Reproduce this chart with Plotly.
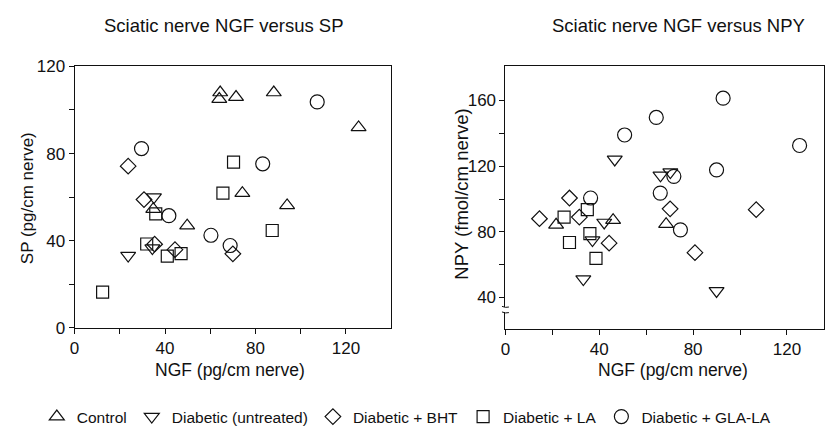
import plotly.graph_objects as go

# ---------------- data ----------------
# Left panel: NGF (pg/cm nerve) vs SP (pg/cm nerve)
control_ngf_sp = [64.4, 64.0, 71.4, 88.1, 125.6, 74.2, 94.0, 49.8, 34.8]
control_sp = [108.0, 105.0, 105.9, 108.0, 92.0, 61.8, 56.2, 46.9, 54.5]
diab_ngf_sp = [35.1, 23.7, 34.4]
diab_sp = [60.0, 33.2, 36.6]
bht_ngf_sp = [23.7, 30.7, 35.4, 44.4, 70.0]
bht_sp = [74.2, 58.9, 38.4, 35.9, 34.0]
la_ngf_sp = [12.4, 70.3, 65.6, 87.4, 35.9, 31.9, 41.0, 47.1]
la_sp = [16.4, 76.1, 61.8, 44.7, 52.3, 38.5, 32.9, 34.1]
gla_ngf_sp = [29.6, 107.3, 83.2, 41.7, 60.3, 68.8]
gla_sp = [82.3, 103.7, 75.3, 51.5, 42.5, 37.8]

# Right panel: NGF (pg/cm nerve) vs NPY (fmol/cm nerve)
control_ngf_npy = [21.6, 45.9, 68.5]
control_npy = [84.3, 87.1, 84.7]
diab_ngf_npy = [46.6, 66.1, 70.3, 42.1, 37.1, 33.2, 90.0]
diab_npy = [124.1, 114.4, 116.4, 85.7, 75.0, 51.2, 44.0]
bht_ngf_npy = [14.5, 27.3, 31.5, 44.2, 70.2, 80.8, 106.9]
bht_npy = [88.0, 100.6, 89.0, 73.1, 94.0, 67.3, 93.5]
la_ngf_npy = [25.0, 34.9, 36.0, 27.3, 38.6]
la_npy = [89.0, 93.5, 78.9, 73.5, 63.8]
gla_ngf_npy = [92.8, 64.3, 50.8, 125.4, 90.0, 71.8, 66.0, 36.3, 74.6]
gla_npy = [161.4, 149.7, 139.0, 132.6, 117.7, 113.8, 103.6, 100.6, 81.2]

group_names = ["Control", "Diabetic (untreated)", "Diabetic + BHT",
               "Diabetic + LA", "Diabetic + GLA-LA"]
titles = ["Sciatic nerve NGF versus SP", "Sciatic nerve NGF versus NPY"]
x_title = "NGF (pg/cm nerve)"
y_titles = ["SP (pg/cm nerve)", "NPY (fmol/cm nerve)"]
# tick positions (every 20) and their labels (only every 40 is labelled)
x_tickvals = [0, 20, 40, 60, 80, 100, 120]
x_ticktext = ["0", "", "40", "", "80", "", "120"]
y_left_tickvals = [0, 20, 40, 60, 80, 100, 120]
y_left_ticktext = ["0", "", "40", "", "80", "", "120"]
y_right_tickvals = [40, 60, 80, 100, 120, 140, 160]
y_right_ticktext = ["40", "", "80", "", "120", "", "160"]

# ---------------- styling ----------------
W, H = 825, 434
FONT = "Liberation Sans, Arial, Helvetica, sans-serif"
INK = "#111111"
symbols = ["triangle-up-open", "triangle-down-open", "diamond-open",
           "square-open", "circle-open"]
sizes = [13, 13, 12, 12, 14]

left_sets = [(control_ngf_sp, control_sp), (diab_ngf_sp, diab_sp),
             (bht_ngf_sp, bht_sp), (la_ngf_sp, la_sp), (gla_ngf_sp, gla_sp)]
right_sets = [(control_ngf_npy, control_npy), (diab_ngf_npy, diab_npy),
              (bht_ngf_npy, bht_npy), (la_ngf_npy, la_npy),
              (gla_ngf_npy, gla_npy)]

fig = go.Figure()
for i, name in enumerate(group_names):
    mk = dict(symbol=symbols[i], size=sizes[i], color=INK,
              line=dict(color=INK, width=1.2))
    fig.add_trace(go.Scatter(x=left_sets[i][0], y=left_sets[i][1],
                             mode="markers", name=name, legendgroup=name,
                             marker=mk, xaxis="x", yaxis="y",
                             showlegend=True))
    fig.add_trace(go.Scatter(x=right_sets[i][0], y=right_sets[i][1],
                             mode="markers", name=name, legendgroup=name,
                             marker=mk, xaxis="x2", yaxis="y2",
                             showlegend=False))


def px_x(p):
    return p / W


def px_y(p):
    return 1 - p / H


axis_common = dict(showline=True, linecolor=INK, linewidth=1, mirror=True,
                   ticks="outside", ticklen=5, tickwidth=1, tickcolor=INK,
                   showgrid=False, zeroline=False, tickmode="array",
                   tickfont=dict(family=FONT, size=17, color=INK))

fig.update_layout(
    width=W, height=H,
    margin=dict(l=0, r=0, t=0, b=0),
    paper_bgcolor="white", plot_bgcolor="white",
    font=dict(family=FONT, color=INK),
    xaxis=dict(axis_common, domain=[px_x(70), px_x(388.5)], range=[0, 140],
               tickvals=x_tickvals, ticktext=x_ticktext, anchor="y"),
    yaxis=dict(axis_common, domain=[px_y(333.5), px_y(60)], range=[0, 120],
               tickvals=y_left_tickvals, ticktext=y_left_ticktext,
               anchor="x"),
    xaxis2=dict(axis_common, domain=[px_x(503.5), px_x(823.5)],
                range=[0, 135.6], tickvals=x_tickvals, ticktext=x_ticktext,
                anchor="y2"),
    yaxis2=dict(axis_common, domain=[px_y(334.5), px_y(60)],
                range=[20.9, 180.8],
                tickvals=y_right_tickvals, ticktext=y_right_ticktext,
                anchor="x2"),
    legend=dict(orientation="h", x=px_x(32), xanchor="left",
                y=px_y(427), yanchor="middle",
                font=dict(family=FONT, size=15.5, color=INK),
                bgcolor="rgba(0,0,0,0)", itemwidth=30),
)

ann = []
ann.append(dict(text=titles[0], x=px_x(220), y=px_y(17), xref="paper",
                yref="paper", showarrow=False, xanchor="center",
                yanchor="middle", font=dict(family=FONT, size=18.5, color=INK)))
ann.append(dict(text=titles[1], x=px_x(678), y=px_y(17), xref="paper",
                yref="paper", showarrow=False, xanchor="center",
                yanchor="middle", font=dict(family=FONT, size=18.5, color=INK)))
for cx in (226, 672):
    ann.append(dict(text=x_title, x=px_x(cx), y=px_y(378), xref="paper",
                    yref="paper", showarrow=False, xanchor="center",
                    yanchor="middle",
                    font=dict(family=FONT, size=17.5, color=INK)))
ann.append(dict(text=y_titles[0], x=px_x(22), y=px_y(198), xref="paper",
                yref="paper", showarrow=False, textangle=-90,
                xanchor="center", yanchor="middle",
                font=dict(family=FONT, size=17, color=INK)))
ann.append(dict(text=y_titles[1], x=px_x(459), y=px_y(194), xref="paper",
                yref="paper", showarrow=False, textangle=-90,
                xanchor="center", yanchor="middle",
                font=dict(family=FONT, size=18.5, color=INK)))
fig.update_layout(annotations=ann)

# axis break mark on the NPY axis
ax_x = px_x(503.5)
dx = 3.5 / W
fig.add_shape(type="line", xref="paper", yref="y2", x0=ax_x, x1=ax_x,
              y0=31.2, y1=34.2, line=dict(color="white", width=4))
fig.add_shape(type="path", xref="paper", yref="y2",
              path=f"M {ax_x - dx},34.6 Q {ax_x},33.6 {ax_x + dx},34.2",
              line=dict(color=INK, width=1))
fig.add_shape(type="path", xref="paper", yref="y2",
              path=f"M {ax_x - dx},31.2 Q {ax_x},30.2 {ax_x + dx},30.8",
              line=dict(color=INK, width=1))

fig.write_html("out.html",
               config={"displayModeBar": False},
               post_script="document.body.style.margin='0px';"
                           "document.body.style.overflow='hidden';")
